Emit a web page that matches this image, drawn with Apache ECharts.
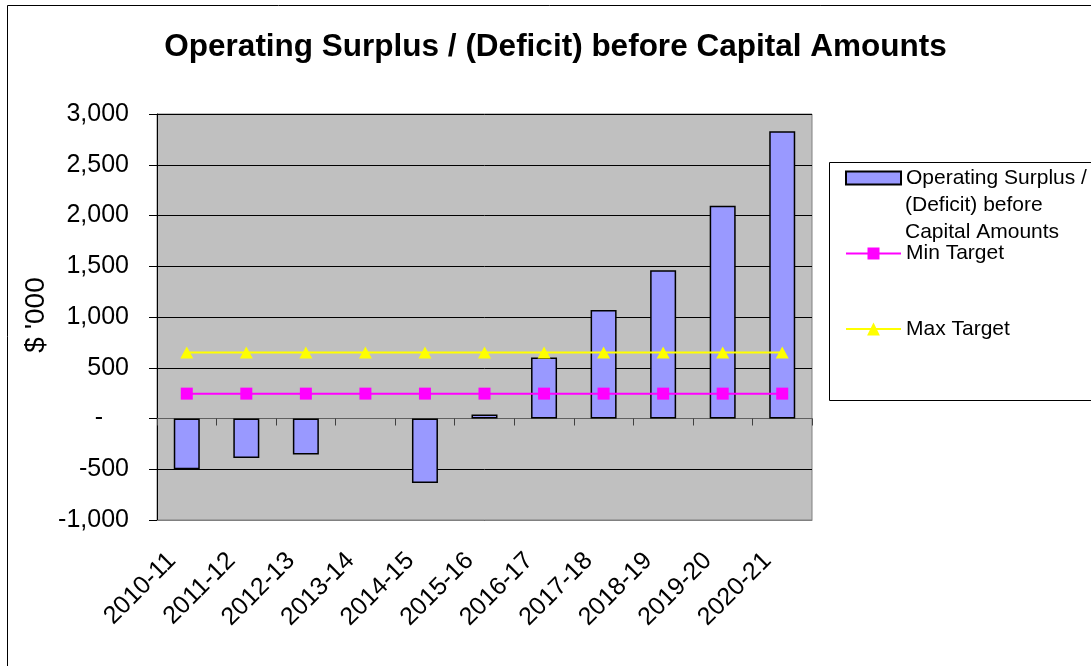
<!DOCTYPE html>
<html>
<head>
<meta charset="utf-8">
<script src="https://cdn.jsdelivr.net/npm/echarts@6/dist/echarts.min.js"></script>
<style>
html,body{margin:0;padding:0;background:#fff;}
#c{width:1091px;height:666px;}
</style>
</head>
<body>
<div id="c"></div>
<script>
const categories = ['2010-11','2011-12','2012-13','2013-14','2014-15','2015-16','2016-17','2017-18','2018-19','2019-20','2020-21'];
const surplus = [-500, -390, -355, null, -635, 40, 600, 1070, 1460, 2095, 2830];
const minTarget = [245, 245, 245, 245, 245, 245, 245, 245, 245, 245, 245];
const maxTarget = [650, 650, 650, 650, 650, 650, 650, 650, 650, 650, 650];
const yTicks = {min: -1000, max: 3000, interval: 500};

const FONT = "'Liberation Sans', Arial, Helvetica, sans-serif";
const chart = echarts.init(document.getElementById('c'), null, {renderer: 'canvas'});

function fmt(v) {
  if (v === 0) return '{z|-}';
  const s = Math.abs(v).toString().replace(/\B(?=(\d{3})+(?!\d))/g, ',');
  return (v < 0 ? '-' : '') + s;
}

const legendText = {fontSize: 21, lineHeight: 21, color: '#000', fontFamily: FONT};

chart.setOption({
  backgroundColor: '#ffffff',
  animation: false,
  textStyle: {fontFamily: FONT},
  graphic: [
    {type: 'rect', z: -10, silent: true, shape: {x: 7.5, y: 5.5, width: 1200, height: 800},
      style: {fill: '#ffffff', stroke: '#000000', lineWidth: 1}},
    {type: 'rect', z: 0, silent: true, shape: {x: 829.5, y: 162.5, width: 400, height: 238},
      style: {fill: '#ffffff', stroke: '#000000', lineWidth: 1}},
    {type: 'text', z: 10, silent: true, x: 905, y: 205,
      style: {text: '(Deficit) before', font: '21px ' + FONT, fill: '#000', align: 'left', verticalAlign: 'middle'}},
    {type: 'text', z: 10, silent: true, x: 905, y: 232.5,
      style: {text: 'Capital Amounts', font: '21px ' + FONT, fill: '#000', align: 'left', verticalAlign: 'middle'}},
    {type: 'text', z: 10, silent: true, x: 555.5, y: 47,
      style: {text: 'Operating Surplus / (Deficit) before Capital Amounts', font: 'bold 31.5px ' + FONT,
        fill: '#000', align: 'center', verticalAlign: 'middle'}},
    {type: 'text', z: 10, silent: true, x: 36, y: 315, rotation: Math.PI / 2,
      style: {text: "$ '000", font: '28px ' + FONT, fill: '#000', align: 'center', verticalAlign: 'middle'}}
  ],
  legend: [
    {left: 845, top: 167.5, padding: 0, itemWidth: 55, itemHeight: 13, selectedMode: false, z: 5,
      data: [{name: 'Operating Surplus / (Deficit) before Capital Amounts', icon: 'rect'}],
      formatter: () => 'Operating Surplus /',
      textStyle: legendText},
    {left: 845, top: 243, padding: 0, itemWidth: 55, itemHeight: 15, selectedMode: false, z: 5,
      data: ['Min Target'], textStyle: legendText},
    {left: 845, top: 318.5, padding: 0, itemWidth: 55, itemHeight: 16, selectedMode: false, z: 5,
      data: ['Max Target'], textStyle: legendText}
  ],
  grid: {left: 157, top: 114, right: 279, bottom: 146, show: true,
    backgroundColor: '#c0c0c0', borderColor: '#808080', borderWidth: 1},
  xAxis: [
    {type: 'category', data: categories, position: 'bottom', boundaryGap: true,
      axisLine: {onZero: false, show: true, lineStyle: {color: '#808080', width: 1}},
      axisTick: {show: false},
      axisLabel: {rotate: 45, fontSize: 25, color: '#000', margin: 22, interval: 0, fontFamily: FONT,
        padding: [0, 21, 0, 0]},
      splitLine: {show: false}},
    {type: 'category', data: categories, position: 'top', boundaryGap: true,
      axisLine: {onZero: true, show: true, lineStyle: {color: '#606060', width: 1}},
      axisTick: {show: true, inside: true, length: 7, interval: 0, lineStyle: {color: '#404040'}},
      axisLabel: {show: false},
      splitLine: {show: false}}
  ],
  yAxis: {
    type: 'value', min: yTicks.min, max: yTicks.max, interval: yTicks.interval,
    axisLine: {show: true, lineStyle: {color: '#000', width: 1}},
    axisTick: {show: true, length: 8, lineStyle: {color: '#000'}},
    axisLabel: {fontSize: 25, color: '#000', margin: 28, formatter: fmt, fontFamily: FONT,
      rich: {z: {fontSize: 25, color: '#000', padding: [0, 26, 0, 0], fontFamily: FONT}}},
    splitLine: {show: true, lineStyle: {color: '#000', width: 1}}
  },
  series: [
    {name: 'Operating Surplus / (Deficit) before Capital Amounts', type: 'bar', xAxisIndex: 0,
      data: surplus, barWidth: 26, z: 2,
      itemStyle: {color: '#9999ff', borderColor: '#000', borderWidth: 1.5}},
    {name: 'Min Target', type: 'line', xAxisIndex: 0, data: minTarget, z: 4,
      symbol: 'rect', symbolSize: 12, lineStyle: {color: '#ff00ff', width: 2},
      itemStyle: {color: '#ff00ff'}},
    {name: 'Max Target', type: 'line', xAxisIndex: 0, data: maxTarget, z: 3,
      symbol: 'triangle', symbolSize: [13, 12], lineStyle: {color: '#ffff00', width: 2},
      itemStyle: {color: '#ffff00'}}
  ]
});
</script>
</body>
</html>
